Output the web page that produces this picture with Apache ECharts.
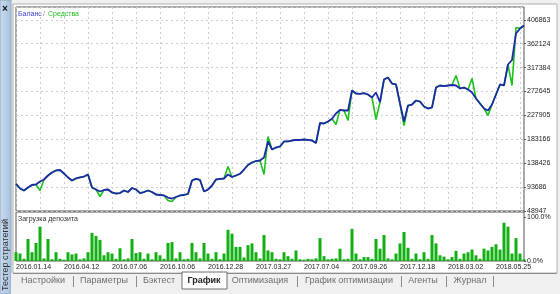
<!DOCTYPE html>
<html>
<head>
<meta charset="utf-8">
<script src="https://cdn.jsdelivr.net/npm/echarts@6/dist/echarts.min.js"></script>
<style>
html,body{margin:0;padding:0;background:#f0f0f0;}
#c{width:560px;height:294px;}
</style>
</head>
<body>
<div id="c"></div>
<script>
// ---- data ----
var dateLabels = ['2016.01.14','2016.04.12','2016.07.06','2016.10.06','2016.12.28','2017.03.27','2017.07.04','2017.09.26','2017.12.18','2018.03.02','2018.05.25'];
var yTickLabels = ['48947','93686','138426','183166','227905','272645','317384','362124','406863'];
var loadTickLabels = ['0.0%','100.0%'];

var balance = [
 99900, 91100, 87300, 92900, 97600, 98600,104200,107900,115400,121000,
124800,125700,119100,111700,106000,109800,111700,113500,117300, 92900,
 89200, 85500, 88300, 89200, 83600, 81700, 82600, 87300, 84500, 92000,
 89200, 82600, 84500, 87300, 84500, 79800, 78900, 78000, 74200, 72300,
 75200, 78000, 78900, 80800,106000,109200,107000, 85500, 89200, 96700,
107900,108900,109800,117300,112600,115400,118600,126600,135100,139700,
142500,143500,149100,179100,164100,167800,169700,179100,179100,180900,
182200,181900,182800,181900,180900,176200,213700,212700,216500,221500,
231500,238400,237100,237100,274500,268900,268300,269500,267000,261400,
270800,252600,295100,298900,287600,285800,250200,216500,246400,248300,
255800,253900,244600,240800,242700,280100,283900,282900,283900,284800,
283900,278300,280100,276400,270800,259500,250200,240800,237100,248300,
267000,285800,283900,323200,331600,381200,390600,396200];

var equity = [
 99900, 91100, 87300, 92900, 97600, 98600, 87300,107900,115400,121000,
124800,125700,119100,111700,106000,109800,111700,113500,117300, 92900,
 89200, 76100, 88300, 89200, 83600, 81700, 82600, 87300, 84500, 92000,
 89200, 82600, 84500, 87300, 84500, 79800, 78900, 78000, 68600, 66700,
 75200, 78000, 78900, 80800,106000,109200,107000, 85500, 89200, 96700,
107900,108900,109800,132300,112600,115400,118600,126600,135100,139700,
142500,143500,117300,188400,164100,167800,169700,179100,179100,180900,
182200,181900,182800,181900,180900,176200,213700,212700,216500,221500,
210900,238400,237100,218400,274500,268900,268300,269500,267000,261400,
220200,252600,295100,298900,287600,285800,250200,209000,246400,248300,
255800,253900,244600,240800,242700,280100,283900,282900,283900,284800,
302600,278300,280100,276400,297000,259500,250200,240800,227700,248300,
267000,285800,283900,323200,283900,392500,390600,396200];

var depositLoad = [
20,17, 5,50,20,41,78, 6,50, 4,
20, 5, 3,20,15,17, 4, 6,20,64,
57,48,13,20,17, 5,29, 4, 6,50,
18,20, 5,17, 4,20,13, 5,41,43,
 6,20, 4, 5,41,20, 6,41,17, 5,
20, 4,17,71,62,32,32, 8,36,40,
20, 6,59,24,20, 5, 4,20,11, 5,
24, 4, 3, 5, 4, 6,52,11, 4, 5,
 6,28, 4, 5,73,17, 4, 9, 9, 5,
50,28,59, 6, 4,17,40,66,30, 5,
17, 4,20, 5,59,40,13,10, 4, 9,
23, 5,17,20,26,13, 5,28,24,32,
38,26,87,78,17,52,17, 4];

// ---- derived structures for the library ----
var BASE = 48947;          // value at the lowest price tick
var STEP = 44739.5;        // spacing between price ticks
var categories = balance.map(function(_, i){ return i; });
var balOff = balance.map(function(v){ return v - BASE; });
var eqOff = equity.map(function(v){ return v - BASE; });

var FONT = '"Liberation Sans", Arial, sans-serif';
var chart = echarts.init(document.getElementById('c'), null, {renderer:'canvas'});

var tabs = [
  {t:'Настройки', x:43}, {t:'Параметры', x:104}, {t:'Бэктест', x:159},
  {t:'График', x:204, active:true}, {t:'Оптимизация', x:260},
  {t:'График оптимизации', x:349}, {t:'Агенты', x:423}, {t:'Журнал', x:470}
];
var seps = [73, 136, 297, 401, 446, 493];

var graphics = [
  {type:'rect', z:-10, shape:{x:13,y:4,width:544,height:269}, style:{fill:'#ffffff', stroke:'#b0b0b0', lineWidth:1}},
  {type:'rect', z:-9, shape:{x:0,y:0,width:11,height:294},
   style:{fill:new echarts.graphic.LinearGradient(0,0,1,0,[{offset:0,color:'#c9dcf0'},{offset:1,color:'#a7c1de'}]), stroke:'#8fa6c0', lineWidth:1}},
  {type:'text', x:5, y:9, style:{text:'×', font:'bold 10px '+FONT, fill:'#111', align:'center', verticalAlign:'middle'}},
  {type:'text', x:6, y:255, rotation:Math.PI/2, style:{text:'Тестер стратегий', font:'9px '+FONT, fill:'#333', align:'center', verticalAlign:'middle'}},
  {type:'rect', z:-9, shape:{x:11,y:273,width:549,height:21}, style:{fill:'#f0f0f0'}},
  {type:'line', shape:{x1:13,y1:273.5,x2:557,y2:273.5}, style:{stroke:'#8c8c8c', lineWidth:1}},
  {type:'rect', shape:{x:182,y:272,width:45,height:17}, style:{fill:'#ffffff', stroke:'#6e6e6e', lineWidth:1}},
  {type:'text', x:18, y:14, style:{text:'Баланс', font:'7px '+FONT, fill:'#4040d0', verticalAlign:'middle'}},
  {type:'text', x:43, y:14, style:{text:'/', font:'7px '+FONT, fill:'#888', verticalAlign:'middle'}},
  {type:'text', x:48, y:14, style:{text:'Средства', font:'7px '+FONT, fill:'#22bb22', verticalAlign:'middle'}},
  {type:'text', x:18, y:219, style:{text:'Загрузка депозита', font:'7px '+FONT, fill:'#333', verticalAlign:'middle'}}
];
tabs.forEach(function(tb){
  graphics.push({type:'text', x:tb.x, y:281, style:{text:tb.t, font:(tb.active?'bold ':'')+'9px '+FONT, fill:tb.active?'#222':'#6e6e6e', align:'center', verticalAlign:'middle'}});
});
seps.forEach(function(sx){
  graphics.push({type:'line', shape:{x1:sx+0.5,y1:276,x2:sx+0.5,y2:287}, style:{stroke:'#8c8c8c', lineWidth:1}});
});

var option = {
  animation:false,
  backgroundColor:'#f0f0f0',
  graphic: graphics,
  grid:[
    {left:16, top:7, width:508, height:204, show:true, backgroundColor:'#ffffff', borderColor:'#555', borderWidth:1},
    {left:16, top:212, width:508, height:49, show:true, backgroundColor:'#ffffff', borderColor:'#555', borderWidth:1}
  ],
  xAxis:[
    {type:'category', gridIndex:0, data:categories, boundaryGap:false,
     axisLine:{show:false}, axisTick:{show:false}, axisLabel:{show:false},
     splitLine:{show:true, interval:5, lineStyle:{color:'#cdcdcd', type:[2,3], width:1}}},
    {type:'category', gridIndex:1, data:categories, boundaryGap:false,
     axisLine:{show:false}, axisTick:{show:false}, splitLine:{show:false},
     axisLabel:{show:true, interval:11, align:'left', margin:3, fontSize:7, fontFamily:FONT, color:'#222',
       formatter:function(v, idx){ return idx % 12 === 0 ? (dateLabels[idx/12] || '') : ''; }}}
  ],
  yAxis:[
    {type:'value', gridIndex:0, position:'right', min:0, max:381878, interval:STEP,
     axisLine:{show:false},
     axisTick:{show:true, length:2, lineStyle:{color:'#555'}},
     splitLine:{show:true, lineStyle:{color:'#cdcdcd', type:[2,3], width:1}},
     axisLabel:{show:true, margin:3, fontSize:7, fontFamily:FONT, color:'#222', showMaxLabel:false,
       formatter:function(v){ var k = Math.round(v/STEP); return Math.abs(v-k*STEP) < 1 ? (yTickLabels[k]||'') : ''; }}},
    {type:'value', gridIndex:1, position:'right', min:0, max:111.4, interval:100,
     axisLine:{show:false},
     axisTick:{show:true, length:2, lineStyle:{color:'#555'}},
     splitLine:{show:false},
     axisLabel:{show:true, margin:3, fontSize:7, fontFamily:FONT, color:'#222', showMaxLabel:false,
       formatter:function(v){ return v === 0 ? loadTickLabels[0] : (v === 100 ? loadTickLabels[1] : ''); }}}
  ],
  series:[
    {name:'Средства', type:'line', xAxisIndex:0, yAxisIndex:0, data:eqOff, symbol:'none',
     lineStyle:{color:'#1ec01e', width:1.6}, z:2},
    {name:'Баланс', type:'line', xAxisIndex:0, yAxisIndex:0, data:balOff, symbol:'none',
     lineStyle:{color:'#1c2aa8', width:1.8}, z:3},
    {name:'Загрузка депозита', type:'bar', xAxisIndex:1, yAxisIndex:1, data:depositLoad, barWidth:3,
     itemStyle:{color:'#12b012'}}
  ]
};
chart.setOption(option);
</script>
</body>
</html>
